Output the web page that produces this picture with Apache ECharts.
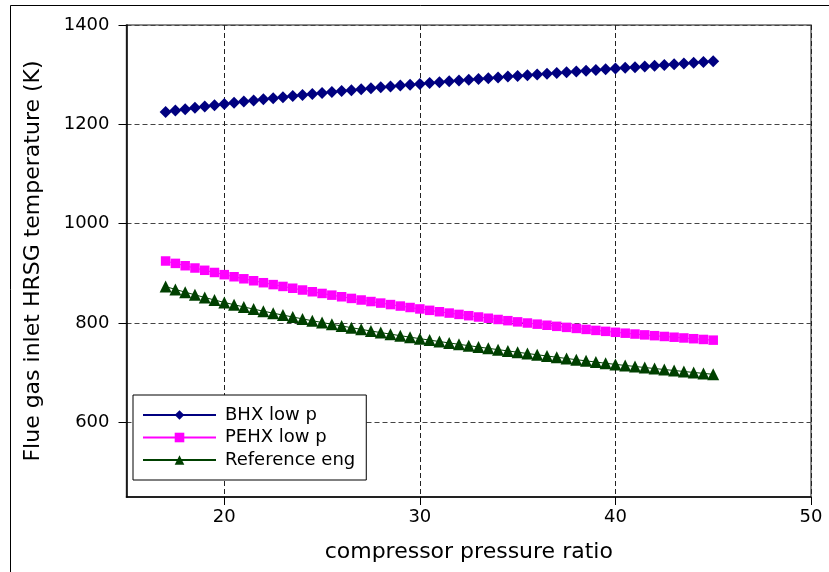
<!DOCTYPE html>
<html>
<head>
<meta charset="utf-8">
<script src="https://cdn.jsdelivr.net/npm/echarts@6/dist/echarts.min.js"></script>
<style>html,body{margin:0;padding:0;background:#fff;}#c{width:829px;height:572px;}</style>
</head>
<body>
<div id="c"></div>
<script>
const xValues = [17,17.5,18,18.5,19,19.5,20,20.5,21,21.5,22,22.5,23,23.5,24,24.5,25,25.5,26,26.5,27,27.5,28,28.5,29,29.5,30,30.5,31,31.5,32,32.5,33,33.5,34,34.5,35,35.5,36,36.5,37,37.5,38,38.5,39,39.5,40,40.5,41,41.5,42,42.5,43,43.5,44,44.5,45];
const bhxLowP = [1225,1227.9,1230.6,1233.3,1236,1238.5,1241,1243.4,1245.8,1248.1,1250.4,1252.6,1254.8,1256.9,1259,1261.1,1263.1,1265.1,1267,1268.9,1270.8,1272.7,1274.5,1276.3,1278,1279.8,1281.5,1283.2,1284.9,1286.6,1288.2,1289.8,1291.4,1293,1294.5,1296.1,1297.6,1299.1,1300.6,1302.1,1303.6,1305.1,1306.5,1308,1309.4,1310.9,1312.3,1313.8,1315.2,1316.7,1318.1,1319.6,1321,1322.5,1324,1325.5,1327];
const pehxLowP = [925,920.2,915.5,910.9,906.3,901.9,897.5,893.3,889.2,885.2,881.3,877.5,873.8,870.2,866.6,863.1,859.7,856.3,853,849.7,846.5,843.4,840.3,837.3,834.3,831.4,828.5,825.7,822.9,820.2,817.5,814.9,812.3,809.8,807.3,804.9,802.5,800.2,797.9,795.7,793.5,791.4,789.3,787.3,785.3,783.4,781.5,779.7,778,776.3,774.7,773.1,771.6,770.1,768.6,767.1,765.7];
const referenceEng = [873.5,867.8,862.3,856.9,851.6,846.5,841.6,837,832.5,828.2,824,820,816.1,812.3,808.5,804.8,801.2,797.7,794.2,790.8,787.4,784.1,780.9,777.8,774.7,771.7,768.7,765.8,762.9,760.1,757.3,754.6,751.9,749.2,746.6,744,741.4,738.8,736.3,733.8,731.3,728.8,726.4,724,721.6,719.2,716.9,714.8,712.7,710.6,708.6,706.6,704.6,702.6,700.7,698.8,696.9];
const xTicks = [20,30,40,50];
const yTicks = [600,800,1000,1200,1400];
const seriesNames = ['BHX low p','PEHX low p','Reference eng'];

const FONT = 'DejaVu Sans';
const pair = ys => xValues.map((x, i) => [x, ys[i]]);

const chart = echarts.init(document.getElementById('c'), null, {renderer: 'canvas'});
const mk = (name, ys, color, symbol, size) => ({
  name, type: 'line', data: pair(ys), symbol, symbolSize: size,
  showSymbol: true, animation: false,
  lineStyle: {color, width: 1}, itemStyle: {color},
  z: 3
});
chart.setOption({
  animation: false,
  backgroundColor: '#fff',
  textStyle: {fontFamily: FONT},
  grid: {left: 126.5, right: 18, top: 25, bottom: 75, show: true, borderColor: '#666', borderWidth: 1.5, backgroundColor: 'transparent'},
  xAxis: {
    type: 'value', min: 15, max: 50,
    name: 'compressor pressure ratio', nameLocation: 'middle', nameGap: 44,
    nameTextStyle: {fontSize: 22, color: '#000', fontFamily: FONT},
    axisLine: {show: true, onZero: false, lineStyle: {color: '#000', width: 1.5}},
    axisTick: {show: true, inside: false, length: 8, customValues: xTicks, lineStyle: {color: '#000', width: 1}},
    axisLabel: {customValues: xTicks, fontSize: 18, color: '#000', margin: 11, fontFamily: FONT, formatter: v => String(v)},
    splitLine: {show: true, lineStyle: {color: '#222', width: 1, type: [5, 3]}}
  },
  yAxis: {
    type: 'value', min: 450, max: 1400,
    name: 'Flue gas inlet HRSG temperature (K)', nameLocation: 'middle', nameGap: 82,
    nameTextStyle: {fontSize: 22, color: '#000', fontFamily: FONT},
    axisLine: {show: true, onZero: false, lineStyle: {color: '#000', width: 1.5}},
    axisTick: {show: true, inside: false, length: 8, customValues: yTicks, lineStyle: {color: '#000', width: 1}},
    axisLabel: {customValues: yTicks, fontSize: 18, color: '#000', margin: 17, fontFamily: FONT, formatter: v => String(v)},
    splitLine: {show: true, lineStyle: {color: '#444', width: 1, type: [5, 3]}}
  },
  legend: {
    orient: 'vertical', left: 133, top: 395,
    data: seriesNames,
    backgroundColor: '#fff', borderColor: '#000', borderWidth: 1, borderRadius: 0,
    padding: [10, 11, 10, 9],
    itemWidth: 73, itemHeight: 12, itemGap: 2.5,
    textStyle: {fontSize: 18, lineHeight: 20, color: '#000', fontFamily: FONT, padding: [0, 0, 0, 4]},
    z: 10
  },
  graphic: [{
    type: 'rect', shape: {x: 10.5, y: 5.5, width: 830, height: 580},
    style: {fill: 'none', stroke: '#000', lineWidth: 1}, silent: true, z: 0
  }],
  series: [
    mk(seriesNames[0], bhxLowP, '#000080', 'diamond', 12),
    mk(seriesNames[1], pehxLowP, '#ff00ff', 'rect', 9.5),
    mk(seriesNames[2], referenceEng, '#004000', 'triangle', 12)
  ]
});
</script>
</body>
</html>
